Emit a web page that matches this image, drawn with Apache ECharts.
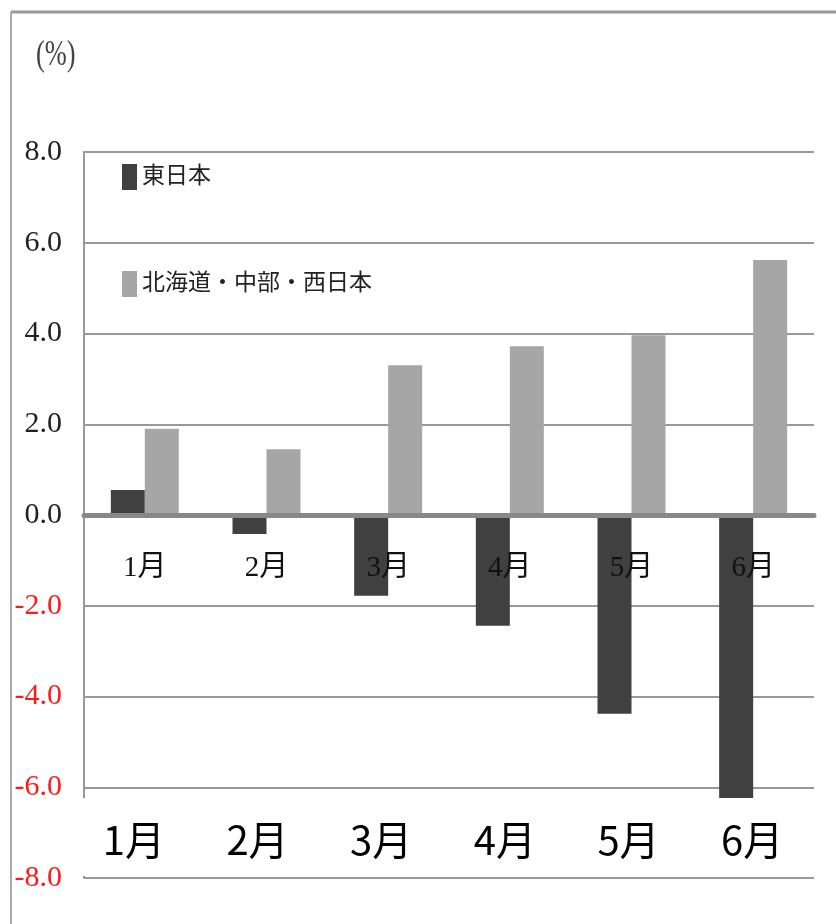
<!DOCTYPE html>
<html>
<head>
<meta charset="utf-8">
<script src="https://cdn.jsdelivr.net/npm/echarts@6/dist/echarts.min.js"></script>
<style>
  html, body { margin: 0; padding: 0; background: #fff; }
  #chart { width: 836px; height: 924px; }
</style>
</head>
<body>
<div id="chart"></div>
<script>
// Monthly change (%) by region
const months = ['1月', '2月', '3月', '4月', '5月', '6月'];
const eastJapan = [0.55, -0.42, -1.78, -2.44, -4.38, -6.3];
const otherRegions = [1.9, 1.45, 3.3, 3.72, 3.96, 5.62];
const seriesNames = ['東日本', '北海道・中部・西日本'];
const unitLabel = '(%)';

const serif = '"Liberation Serif", "Noto Sans CJK JP", serif';
const sans = '"Noto Sans CJK JP", "Lato", sans-serif';

const chart = echarts.init(document.getElementById('chart'), null, { renderer: 'canvas' });

chart.setOption({
  animation: false,
  backgroundColor: '#fff',
  grid: [
    // main plot
    { left: 84, top: 152, width: 730, height: 726, outerBoundsMode: 'none' },
    // band of large month labels
    { left: 72, top: 798, width: 742, height: 20, outerBoundsMode: 'none' },
    // upper half, its bottom edge sits on the zero line; carries the small month labels
    { left: 84, top: 152, width: 730, height: 362, outerBoundsMode: 'none' }
  ],
  legend: {
    orient: 'vertical',
    left: 117,
    top: 159,
    itemWidth: 15,
    itemHeight: 26,
    itemGap: 81,
    icon: 'rect',
    textStyle: { fontFamily: serif, fontSize: 23, color: '#222' },
    data: seriesNames
  },
  xAxis: [
    {
      type: 'category',
      gridIndex: 0,
      data: months,
      z: 3,
      axisLine: { onZero: true, lineStyle: { color: '#888', width: 5 } },
      axisTick: { show: false },
      axisLabel: { show: false }
    },
    {
      type: 'category',
      gridIndex: 1,
      data: months,
      z: 200,
      axisLine: { show: false },
      axisTick: { show: false },
      axisLabel: { margin: 2, fontFamily: sans, fontSize: 40, color: '#000' }
    },
    {
      type: 'category',
      gridIndex: 2,
      data: months,
      z: 4,
      axisLine: { show: false },
      axisTick: { show: false },
      axisLabel: { margin: 40, fontFamily: serif, fontSize: 29, color: '#111' }
    }
  ],
  yAxis: [
    {
      type: 'value',
      gridIndex: 0,
      min: -8,
      max: 8,
      interval: 2,
      axisLine: { show: true, lineStyle: { color: '#999', width: 2 } },
      axisTick: { show: false },
      splitLine: { lineStyle: { color: '#999', width: 2 } },
      axisLabel: {
        margin: 22,
        fontFamily: serif,
        fontSize: 30,
        formatter: v => v.toFixed(1),
        color: v => (Number(v) < 0 ? '#ff1a1a' : '#222')
      }
    },
    { type: 'value', gridIndex: 1, min: 0, max: 1, show: false },
    { type: 'value', gridIndex: 2, min: 0, max: 1, show: false }
  ],
  series: [
    {
      name: seriesNames[0],
      type: 'bar',
      xAxisIndex: 0,
      yAxisIndex: 0,
      data: eastJapan,
      barWidth: 34,
      barGap: '0%',
      itemStyle: { color: '#404040' }
    },
    {
      name: seriesNames[1],
      type: 'bar',
      xAxisIndex: 0,
      yAxisIndex: 0,
      data: otherRegions,
      barWidth: 34,
      barGap: '0%',
      itemStyle: { color: '#a6a6a6' }
    }
  ],
  graphic: [
    // outer frame
    { type: 'line', z: 100, shape: { x1: 11, y1: 12, x2: 836, y2: 12 }, style: { stroke: '#999', lineWidth: 3 } },
    { type: 'line', z: 100, shape: { x1: 11, y1: 12, x2: 11, y2: 924 }, style: { stroke: '#aaa', lineWidth: 2 } },
    // unit label
    { type: 'text', z: 100, x: 36, y: 38, scaleX: 0.88, scaleY: 1.2, style: { text: unitLabel, font: '30px ' + serif, fill: '#444' } },
    // band behind the large month labels
    { type: 'rect', z: 100, shape: { x: 78, y: 798, width: 758, height: 78 }, style: { fill: '#fff' } }
  ]
});
</script>
</body>
</html>
